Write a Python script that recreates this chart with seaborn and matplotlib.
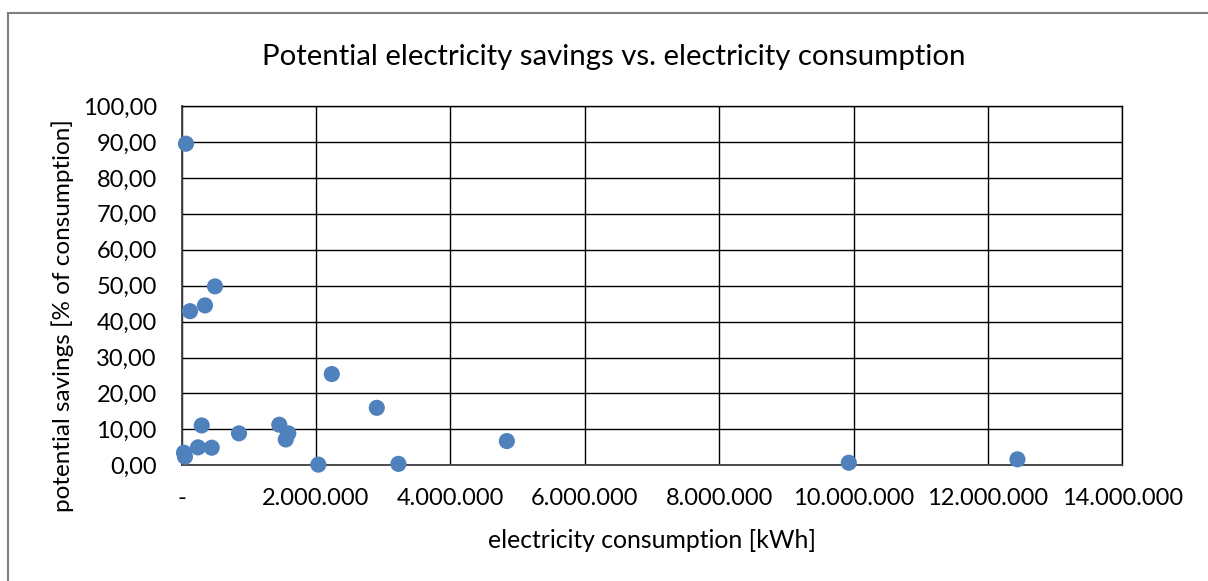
import matplotlib
matplotlib.use("Agg")
import matplotlib.pyplot as plt
import matplotlib.patches as mpatches
from matplotlib.ticker import FuncFormatter, MultipleLocator
import seaborn as sns
import pandas as pd

# Electricity consumption per site [kWh] and potential savings [% of consumption]
consumption_kwh = [64000, 124000, 347000, 496000, 34000, 49000, 243000, 447000,
                   298000, 853000, 1453000, 1587000, 1549000, 2034000, 2234000,
                   2904000, 3226000, 4840000, 9930000, 12440000]
savings_pct = [89.5, 42.9, 44.5, 49.8, 3.5, 2.4, 5.0, 4.9,
               11.1, 8.9, 11.3, 8.9, 7.2, 0.2, 25.4,
               16.0, 0.4, 6.75, 0.72, 1.67]

title = "Potential electricity savings vs. electricity consumption"
x_label = "electricity consumption [kWh]"
y_label = "potential savings [% of consumption]"

df = pd.DataFrame({"consumption": consumption_kwh, "savings": savings_pct})

sns.set_theme(style="white")
plt.rcParams["font.family"] = ["Lato", "DejaVu Sans"]

fig = plt.figure(figsize=(12.08, 5.81), dpi=100)
ax = fig.add_axes([0.1504, 0.1991, 0.7786, 0.6185])

sns.scatterplot(data=df, x="consumption", y="savings", ax=ax,
                color="#4F81BD", s=135, edgecolor="none", clip_on=False, zorder=3)

ax.set_xlim(0, 14_000_000)
ax.set_ylim(0, 100)
ax.xaxis.set_major_locator(MultipleLocator(2_000_000))
ax.yaxis.set_major_locator(MultipleLocator(10))


def fmt_x(v, _):
    if abs(v) < 0.5:
        return "-"
    return f"{int(round(v)):,}".replace(",", ".")


def fmt_y(v, _):
    return f"{v:.2f}".replace(".", ",")


ax.xaxis.set_major_formatter(FuncFormatter(fmt_x))
ax.yaxis.set_major_formatter(FuncFormatter(fmt_y))
ax.tick_params(axis="both", length=0, labelsize=17, colors="black")
ax.tick_params(axis="x", pad=16)
ax.tick_params(axis="y", pad=18)

ax.grid(True, color="black", linewidth=1.0)
ax.set_axisbelow(True)
for side in ["top", "right"]:
    ax.spines[side].set_color("black")
    ax.spines[side].set_linewidth(1.0)
for side in ["left", "bottom"]:
    ax.spines[side].set_color("#404040")
    ax.spines[side].set_linewidth(1.3)

ax.set_xlabel(x_label, fontsize=17.8, labelpad=15, color="black")
ax.set_ylabel(y_label, fontsize=17.5, color="black")
ax.yaxis.set_label_coords(-0.114, 0.4155)
fig.text(0.508, 0.902, title, ha="center", va="center", fontsize=21.2, color="black")

# chart border
fig.patches.append(mpatches.Rectangle((8 / 1208, -0.2), 1.2, 1.2 - 13 / 581,
                                      transform=fig.transFigure, fill=False,
                                      edgecolor="#7f7f7f", linewidth=1.5))

fig.savefig("out.png", dpi=100, facecolor="white")
